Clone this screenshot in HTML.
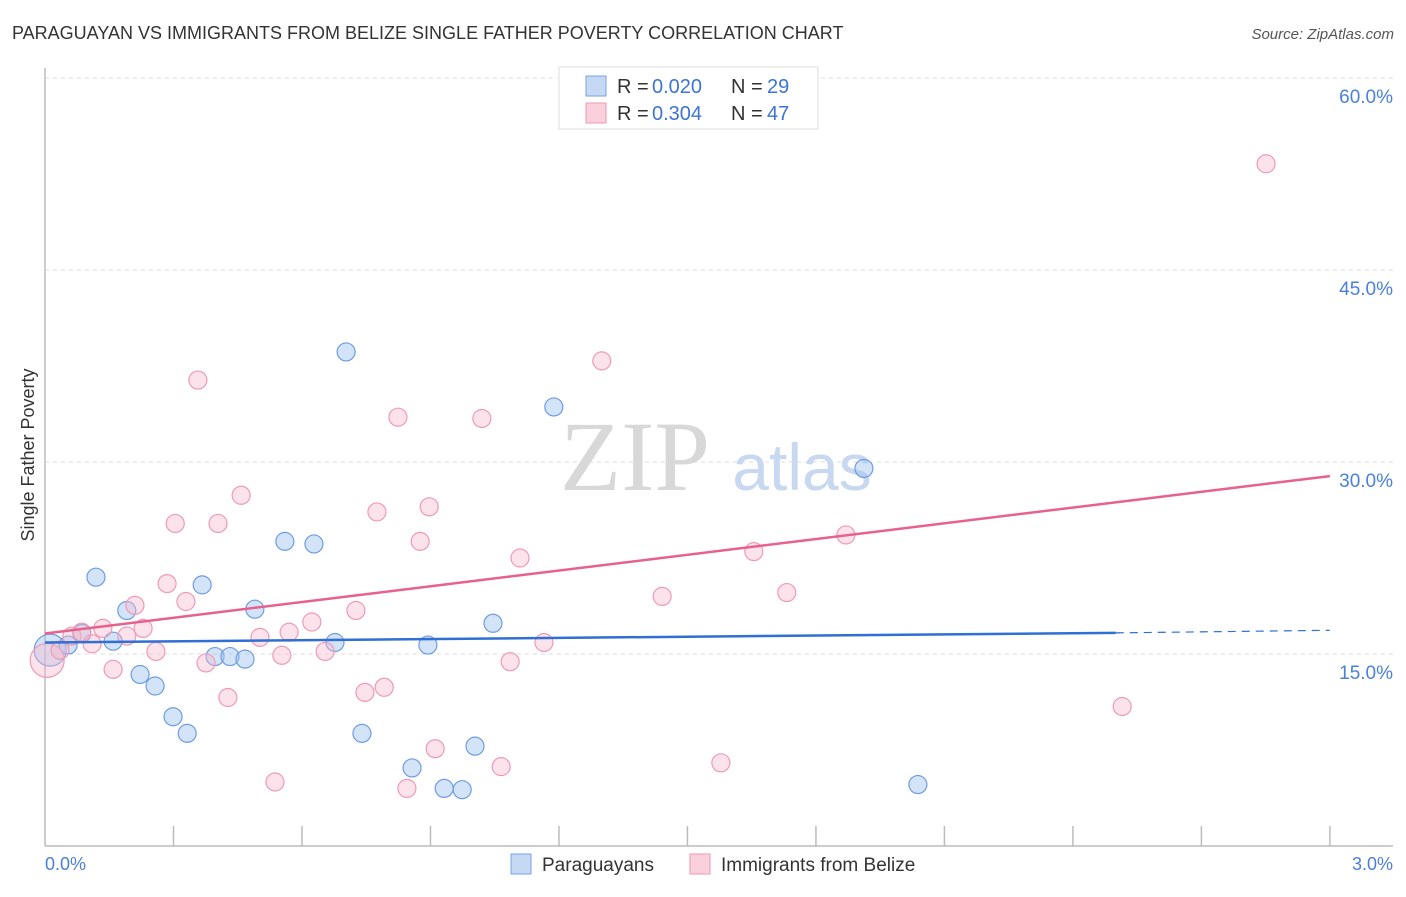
<!DOCTYPE html>
<html><head><meta charset="utf-8"><style>
body{margin:0;background:#fff;font-family:"Liberation Sans",sans-serif;}
</style></head><body>
<svg width="1406" height="892" font-family="Liberation Sans, sans-serif">
<text x="12" y="39" font-size="18" fill="#333">PARAGUAYAN VS IMMIGRANTS FROM BELIZE SINGLE FATHER POVERTY CORRELATION CHART</text>
<text x="1394" y="39" font-size="15" fill="#555" text-anchor="end" font-style="italic">Source: ZipAtlas.com</text>
<g id="grid"></g>
<text x="635" y="490" font-size="100" fill="#d8d8d8" style="font-family:'Liberation Serif',serif" text-anchor="middle">ZIP</text>
<text x="802" y="490" font-size="66" fill="#c8d8f0" text-anchor="middle">atlas</text>
<g id="marks"></g>
<text transform="translate(34,455) rotate(-90)" font-size="18" fill="#333" text-anchor="middle">Single Father Poverty</text>
<text x="45" y="870" font-size="18" fill="#4a80d8">0.0%</text>
<text x="1393" y="870" font-size="18" fill="#4a80d8" text-anchor="end">3.0%</text>
<g>
<rect x="559" y="67" width="259" height="62" fill="#fff" stroke="#ddd"/>
<rect x="586" y="76" width="20" height="20" fill="#c5d9f5" stroke="#7aa3e0"/>
<rect x="586" y="103" width="20" height="20" fill="#fbd0dd" stroke="#ef9ab5"/>
<text x="617" y="93" font-size="20" fill="#333">R =</text>
<text x="652" y="93" font-size="20" fill="#3b74d6">0.020</text>
<text x="731" y="93" font-size="20" fill="#333">N =</text>
<text x="767" y="93" font-size="20" fill="#3b74d6">29</text>
<text x="617" y="120" font-size="20" fill="#333">R =</text>
<text x="652" y="120" font-size="20" fill="#3b74d6">0.304</text>
<text x="731" y="120" font-size="20" fill="#333">N =</text>
<text x="767" y="120" font-size="20" fill="#3b74d6">47</text>
</g>
<g>
<rect x="511" y="854" width="20" height="20" fill="#c5d9f5" stroke="#7aa3e0"/>
<text x="542" y="871" font-size="19" fill="#333">Paraguayans</text>
<rect x="690" y="854" width="20" height="20" fill="#fbd0dd" stroke="#ef9ab5"/>
<text x="721" y="871" font-size="19" fill="#333">Immigrants from Belize</text>
</g>
</svg>
<script>
const yTicks=[15,30,45,60];
const yTickLabels=["15.0%","30.0%","45.0%","60.0%"];
const xTicks=[0.3,0.6,0.9,1.2,1.5,1.8,2.1,2.4,2.7,3.0];
const blueX=[0.012,0.054,0.086,0.119,0.159,0.191,0.222,0.257,0.299,0.332,0.367,0.397,0.432,0.467,0.490,0.560,0.628,0.677,0.703,0.740,0.857,0.894,0.932,0.974,1.004,1.046,1.188,1.912,2.038];
const blueY=[15.3,15.7,16.6,21.0,16.0,18.4,13.4,12.5,10.1,8.8,20.4,14.8,14.8,14.6,18.5,23.8,23.6,15.9,38.6,8.8,6.1,15.7,4.5,4.4,7.8,17.4,34.3,29.5,4.8];
const pinkX=[0.005,0.035,0.063,0.086,0.110,0.135,0.159,0.191,0.210,0.229,0.259,0.285,0.304,0.329,0.357,0.376,0.404,0.427,0.458,0.502,0.537,0.553,0.570,0.623,0.654,0.726,0.747,0.775,0.792,0.824,0.845,0.876,0.897,0.911,1.020,1.065,1.086,1.109,1.165,1.300,1.441,1.578,1.655,1.732,1.870,2.515,2.851];
const pinkY=[14.5,15.3,16.4,16.7,15.8,17.0,13.8,16.4,18.8,17.0,15.2,20.5,25.2,19.1,36.4,14.3,25.2,11.6,27.4,16.3,5.0,14.9,16.7,17.5,15.2,18.4,12.0,26.1,12.4,33.5,4.5,23.8,26.5,7.6,33.4,6.2,14.4,22.5,15.9,37.9,19.5,6.5,23.0,19.8,24.3,10.9,53.3];
const blueTrend=[15.9,16.65,16.85];
const pinkTrend=[16.6,28.9];
const sx=v=>45+v*428.3, sy=v=>846-v*12.8;
const NS="http://www.w3.org/2000/svg";
function mk(t,a,p){const e=document.createElementNS(NS,t);for(const k in a)e.setAttribute(k,a[k]);p.appendChild(e);return e;}
const g=document.getElementById('grid'), m=document.getElementById('marks');
let e=mk('line',{x1:45,y1:68,x2:45,y2:846,stroke:'#bbb','stroke-width':1.5},g);


e=mk('line',{x1:45,y1:846,x2:1393,y2:846,stroke:'#bbb','stroke-width':1.5},g);


yTicks.forEach((v,i)=>{
 e=mk('line',{x1:45,y1:sy(v),x2:1393,y2:sy(v),stroke:'#ddd','stroke-dasharray':'4,4'},g);
 
 
 e=mk('text',{x:1393,y:sy(v)+25,'font-size':19,fill:'#4a80d8','text-anchor':'end'},g);
 e.textContent=yTickLabels[i];
 
 
});
xTicks.forEach(v=>{
 e=mk('line',{x1:sx(v),y1:826,x2:sx(v),y2:846,stroke:'#bbb','stroke-width':1.5},g);
 
 
});
blueX.forEach((x,i)=>{
 e=mk('circle',{cx:sx(x),cy:sy(blueY[i]),r:i==0?16:9,fill:'rgba(160,195,240,0.45)',stroke:'#6f9ce0','stroke-width':1.2},m);
 
 
});
pinkX.forEach((x,i)=>{
 e=mk('circle',{cx:sx(x),cy:sy(pinkY[i]),r:i==0?17:9,fill:'rgba(248,185,205,0.4)',stroke:'#ee9ab6','stroke-width':1.2},m);
 
 
});
e=mk('line',{x1:sx(0),y1:sy(blueTrend[0]),x2:sx(2.5),y2:sy(blueTrend[1]),stroke:'#2f6fd6','stroke-width':2.5},m);


e=mk('line',{x1:sx(2.5),y1:sy(blueTrend[1]),x2:sx(3),y2:sy(blueTrend[2]),stroke:'#2f6fd6','stroke-width':1.2,'stroke-dasharray':'8,6'},m);


e=mk('line',{x1:sx(0),y1:sy(pinkTrend[0]),x2:sx(3),y2:sy(pinkTrend[1]),stroke:'#e8608e','stroke-width':2.5},m);


</script>
</body></html>
